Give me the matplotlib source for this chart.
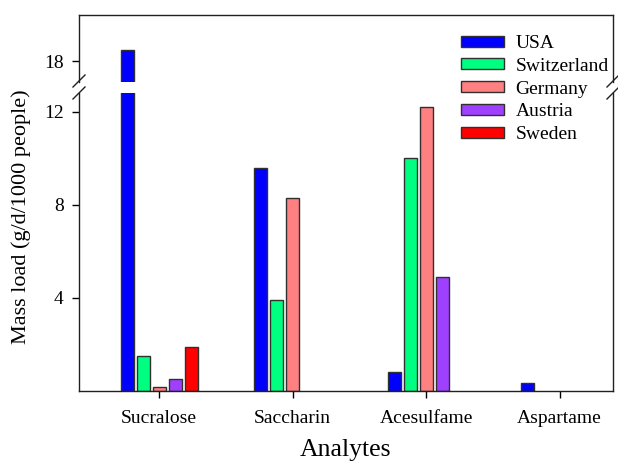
import matplotlib
matplotlib.use("Agg")
import matplotlib.pyplot as plt
import numpy as np
from matplotlib.patches import Patch
from matplotlib.lines import Line2D

categories = ["Sucralose", "Saccharin", "Acesulfame", "Aspartame"]
countries = ["USA", "Switzerland", "Germany", "Austria", "Sweden"]
colors = ["#0000FF", "#00FF80", "#FF8080", "#A040FF", "#FF0000"]
values = {
    "USA":         [18.5, 9.6, 0.8, 0.33],
    "Switzerland": [1.5, 3.9, 10.0, 0.0],
    "Germany":     [0.18, 8.3, 12.2, 0.0],
    "Austria":     [0.5, 0.0, 4.9, 0.0],
    "Sweden":      [1.9, 0.0, 0.0, 0.0],
}
low_ticks = [4, 8, 12]
high_ticks = [18]

plt.rcParams['font.family'] = ['Liberation Serif', 'DejaVu Serif']

fig = plt.figure(figsize=(6.18, 4.61), dpi=100)
L, R = 79/618, 613/618
ax_top = fig.add_axes([L, 1-82/461, R-L, (82-15)/461])
ax_bot = fig.add_axes([L, 1-391/461, R-L, (391-93)/461])

x = np.arange(len(categories))
slot = 0.12
width = 0.098
for ax in (ax_top, ax_bot):
    for i, c in enumerate(countries):
        v = np.array(values[c])
        mask = v > 0
        ax.bar(x[mask] + (i-2)*slot, v[mask], width=width, color=colors[i],
               edgecolor="#303030", linewidth=1.0)
    ax.set_xlim(-0.6, 3.4)
    for s in ax.spines.values():
        s.set_linewidth(1.0)
        s.set_color("#202020")

ax_top.set_ylim(17.1, 20.0)
ax_bot.set_ylim(0, 12.8)
ax_top.spines['bottom'].set_visible(False)
ax_bot.spines['top'].set_visible(False)
ax_top.set_xticks([])
ax_top.set_yticks(high_ticks)
ax_bot.set_yticks(low_ticks)
ax_bot.set_xticks(x)
ax_bot.set_xticklabels(categories, fontsize=14)
for ax in (ax_top, ax_bot):
    ax.tick_params(axis='y', direction='out', length=5, width=1, labelsize=14, pad=6)
ax_bot.tick_params(axis='x', direction='out', length=5, width=1, pad=9)
ax_bot.set_xlabel("Analytes", fontsize=18.5, labelpad=8)
fig.text(0.035, 1-217/461, "Mass load (g/d/1000 people)",
         rotation=90, ha='center', va='center', fontsize=16)

# break marks
for xf in (L, R):
    for yp in (81, 93):
        yf = 1 - yp/461
        fig.add_artist(Line2D([xf-6/618, xf+6/618], [yf-6/461, yf+6/461],
                              color="#202020", linewidth=1.0))

handles = [Patch(facecolor=colors[i], edgecolor="#303030", linewidth=1.0, label=c)
           for i, c in enumerate(countries)]
fig.legend(handles=handles, loc='upper left', bbox_to_anchor=(461/618, 1-35/461),
           frameon=False, fontsize=14, handlelength=2.2, handleheight=0.5,
           labelspacing=0.3, handletextpad=0.6, borderpad=0, borderaxespad=0)

fig.savefig("out.png", dpi=100)
